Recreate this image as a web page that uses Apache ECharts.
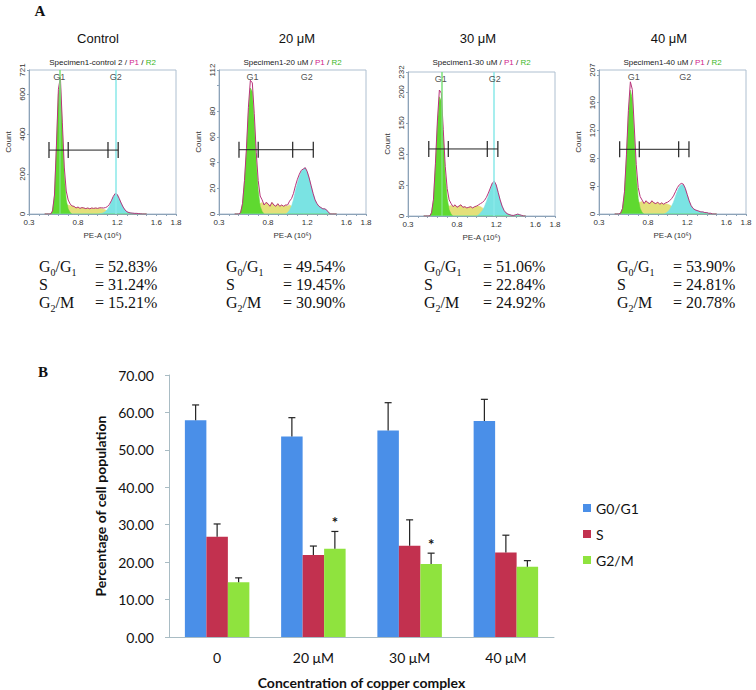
<!DOCTYPE html>
<html><head><meta charset="utf-8">
<script src="https://cdn.jsdelivr.net/npm/echarts@6/dist/echarts.min.js"></script>
<style>html,body{margin:0;padding:0;background:#fff}#c{width:756px;height:690px}</style>
</head><body><div id="c"></div>
<script>
// ================= Panel B data =================
const categories = ['0', '20 μM', '30 μM', '40 μM'];
const seriesNames = ['G0/G1', 'S', 'G2/M'];
const g0g1Mean = [57.9, 53.6, 55.2, 57.7];
const g0g1Err  = [4.1, 5.0, 7.4, 5.8];
const sMean    = [26.8, 21.9, 24.4, 22.6];
const sErr     = [3.4, 2.4, 6.9, 4.6];
const g2mMean  = [14.6, 23.6, 19.5, 18.8];
const g2mErr   = [1.2, 4.6, 2.9, 1.6];
const g2mSig   = ['', '*', '*', ''];
const yTitleB = 'Percentage of cell population';
const xTitleB = 'Concentration of copper complex';

// ================= Panel A data =================
const panelTitles = ['Control', '20 μM', '30 μM', '40 μM'];
const specimenNames = ['Specimen1-control 2', 'Specimen1-20 uM', 'Specimen1-30 uM', 'Specimen1-40 uM'];
const countMax = [721, 112, 232, 207];
const countStep = [200, 20, 50, 40];
const countLabels = [[0, 200, 400, 600, 721], [0, 20, 40, 60, 80, 112], [0, 50, 100, 150, 200, 232], [0, 40, 80, 120, 160, 207]];
const peLabels = [0.3, 0.8, 1.2, 1.6, 1.8];
const binCentres = [0.46,0.48,0.50,0.52,0.54,0.56,0.58,0.60,0.62,0.64,
  0.66,0.68,0.70,0.72,0.74,0.76,0.78,0.80,0.82,0.84,
  0.86,0.88,0.90,0.92,0.94,0.96,0.98,1.00,1.02,1.04,
  1.06,1.08,1.10,1.12,1.14,1.16,1.18,1.20,1.22,1.24,
  1.26,1.28,1.30,1.32,1.34,1.36,1.38,1.40,1.42,1.44,
  1.46,1.48,1.50];
// control
const ctrlG1 = [0,0,0,0,15,90,330,600,650,420, 190,70,25,8,0,0,0,0,0,0, 0,0,0,0,0,0,0,0,0,0, 0,0,0,0,0,0,0,0,0,0, 0,0,0,0,0,0,0,0,0,0, 0,0,0];
const ctrlS  = [0,0,0,0,0,5,15,25,35,40, 45,45,45,42,40,38,30,35,28,32, 30,27,30,26,30,28,30,28,30,28, 24,20,15,10,6,3,1,0,0,0, 0,0,0,0,0,0,0,0,0,0, 0,0,0];
const ctrlG2 = [0,0,0,0,0,0,0,0,0,0, 0,0,0,0,0,0,0,0,0,0, 0,0,0,0,0,0,0,0,1,3, 6,12,22,38,60,85,102,98,78,55, 35,20,11,7,5,4,3,3,2,1, 0,0,0];
// 20 uM
const d20G1 = [0,0,0,1,8,25,48,78,98,95, 70,40,18,6,2,0,0,0,0,0, 0,0,0,0,0,0,0,0,0,0, 0,0,0,0,0,0,0,0,0,0, 0,0,0,0,0,0,0,0,0,0, 0,0,0];
const d20S  = [0,0,0,0,0,1,3,5,6,7, 8,8,8,8,9,7,9,8,6,9, 7,6,8,6,7,6,7,6,7,6, 5,4,3,2,1,0,0,0,0,0, 0,0,0,0,0,0,0,0,0,0, 0,0,0];
const d20G2 = [0,0,0,0,0,0,0,0,0,0, 0,0,0,0,0,0,0,0,0,0, 0,0,0,0,0,0,0,1,3,6, 11,18,24,29,33,35,36,33,28,22, 16,11,8,6,5,4,4,3,1,0, 0,0,0];
// 30 uM
const d30G1 = [0,0,0,0,5,25,80,145,192,185, 125,65,28,10,3,0,0,0,0,0, 0,0,0,0,0,0,0,0,0,0, 0,0,0,0,0,0,0,0,0,0, 0,0,0,0,0,0,0,0,0,0, 0,0,0];
const d30S  = [0,0,0,0,0,2,5,8,11,13, 14,15,16,16,17,15,18,14,16,18, 14,15,13,14,15,13,15,16,16,15, 13,10,7,5,3,1,0,0,0,0, 0,0,0,0,0,0,0,0,0,0, 0,0,0];
const d30G2 = [0,0,0,0,0,0,0,0,0,0, 0,0,0,0,0,0,0,0,0,0, 0,0,0,0,0,0,0,0,2,5, 9,15,23,32,42,52,56,50,38,26, 16,9,5,3,2,1,1,2,3,2, 1,0,0];
// 40 uM
const d40G1 = [0,0,0,1,8,30,80,140,178,165, 110,55,22,8,2,0,0,0,0,0, 0,0,0,0,0,0,0,0,0,0, 0,0,0,0,0,0,0,0,0,0, 0,0,0,0,0,0,0,0,0,0, 0,0,0];
const d40S  = [0,0,0,0,0,2,5,9,12,14, 15,16,16,17,18,15,19,16,15,19, 16,15,17,14,16,14,15,14,13,11, 9,7,5,3,2,1,0,0,0,0, 0,0,0,0,0,0,0,0,0,0, 0,0,0];
const d40G2 = [0,0,0,0,0,0,0,0,0,0, 0,0,0,0,0,0,0,0,0,0, 0,0,0,0,0,0,1,3,6,11, 17,25,33,39,42,42,37,28,19,12, 8,6,5,4,3,3,2,2,1,1, 0,0,0];
const histG1 = [ctrlG1, d20G1, d30G1, d40G1];
const histS  = [ctrlS, d20S, d30S, d40S];
const histG2 = [ctrlG2, d20G2, d30G2, d40G2];
const gateX = [[0.504, 0.70, 1.106, 1.21], [0.504, 0.70, 1.052, 1.262], [0.512, 0.711, 1.109, 1.217], [0.511, 0.711, 1.113, 1.218]];
const gateCount = [320, 50, 108, 93];
const markerG1 = [0.609, 0.643, 0.635, 0.654];
const markerG2 = [1.185, 1.195, 1.184, 1.18];
const markerLines = [true, false, true, false];
const phasePct = [['52.83%', '31.24%', '15.21%'], ['49.54%', '19.45%', '30.90%'], ['51.06%', '22.84%', '24.92%'], ['53.90%', '24.81%', '20.78%']];

// ================= layout =================
const histLeft = [29, 219, 408, 599];
const histTop = [70, 70, 72, 70];
const histW = 147, histH = 144;
const titleX = [98, 297, 478, 669];
const statLabelX = [39, 226, 424, 617];
const statValueX = [95, 283, 483, 673];
const statY = [266, 284, 302];
const colG1 = '#5fd930', colS = '#e4e07a', colG2 = '#7ae3e3', colOutline = '#b8347a';
const barColors = ['#4a8fe8', '#c2314f', '#8fe33e'];
const axisGrey = '#a9bcc4';
const hFont = 'Liberation Sans';

const chart = echarts.init(document.getElementById('c'), null, {renderer: 'svg'});

const grids = [], xAxes = [], yAxes = [], series = [], graphics = [];
const near = (arr, v) => arr.some(a => Math.abs(a - v) < 1e-6);

for (let i = 0; i < 4; i++) {
  grids.push({left: histLeft[i], top: histTop[i], width: histW, height: histH, show: true, borderColor: '#aebfd0', borderWidth: 1, containLabel: false});
  xAxes.push({
    gridIndex: i, type: 'value', min: 0.3, max: 1.8, interval: 0.1,
    name: 'PE-A (10⁶)', nameLocation: 'middle', nameGap: 17,
    nameTextStyle: {fontFamily: hFont, fontSize: 8, color: '#333'},
    axisLine: {lineStyle: {color: '#8da3b8'}},
    axisTick: {length: 2, lineStyle: {color: '#8da3b8'}},
    splitLine: {show: false},
    axisLabel: {fontFamily: hFont, fontSize: 8, color: '#333', margin: 4, showMinLabel: true, showMaxLabel: true,
      formatter: v => near(peLabels, v) ? (Math.round(v * 10) / 10).toFixed(1) : ''}
  });
  yAxes.push({
    gridIndex: i, type: 'value', min: 0, max: countMax[i], interval: countStep[i],
    name: 'Count', nameLocation: 'middle', nameGap: 17, nameRotate: 90,
    nameTextStyle: {fontFamily: hFont, fontSize: 8, color: '#333'},
    axisLine: {show: true, lineStyle: {color: '#8da3b8'}},
    axisTick: {show: true, length: 2, lineStyle: {color: '#8da3b8'}},
    splitLine: {show: false},
    axisLabel: {rotate: 90, fontFamily: hFont, fontSize: 8, color: '#333', margin: 3, showMaxLabel: true,
      formatter: v => near(countLabels[i], v) ? String(Math.round(v)) : ''}
  });
  const toPts = arr => binCentres.map((x, k) => [x, arr[k]]);
  const total = binCentres.map((x, k) => [x, histG1[i][k] + histS[i][k] + histG2[i][k]]);
  const areaSeries = (name, arr, col, z) => ({
    name: name, type: 'line', xAxisIndex: i, yAxisIndex: i, data: toPts(arr), symbol: 'none', silent: true,
    lineStyle: {width: 0.6, color: col}, areaStyle: {color: col, opacity: 1}, z: z, animation: false
  });
  series.push(areaSeries('hS' + i, histS[i], colS, 2));
  series.push(areaSeries('hG1' + i, histG1[i], colG1, 3));
  series.push(areaSeries('hG2' + i, histG2[i], colG2, 3));
  series.push({name: 'hT' + i, type: 'line', xAxisIndex: i, yAxisIndex: i, data: total, symbol: 'none', silent: true,
    lineStyle: {width: 1, color: colOutline}, z: 4, animation: false});
  // gate bar
  series.push({
    name: 'gate' + i, type: 'custom', xAxisIndex: i, yAxisIndex: i, silent: true, z: 6, animation: false,
    data: [[gateX[i][0], gateCount[i]]],
    renderItem: (params, api) => {
      const xs = gateX[i], yv = gateCount[i];
      const p0 = api.coord([xs[0], yv]), p3 = api.coord([xs[3], yv]);
      const ch = [{type: 'line', shape: {x1: p0[0], y1: p0[1], x2: p3[0], y2: p3[1]}, style: {stroke: '#222', lineWidth: 1}}];
      xs.forEach(x => {
        const p = api.coord([x, yv]);
        ch.push({type: 'line', shape: {x1: p[0], y1: p[1] - 8, x2: p[0], y2: p[1] + 8}, style: {stroke: '#222', lineWidth: 1.2}});
      });
      return {type: 'group', children: ch};
    }
  });
  // G1 / G2 markers
  const mk = {
    name: 'mk' + i, type: 'scatter', xAxisIndex: i, yAxisIndex: i, symbolSize: 0, silent: true, z: 7, animation: false,
    data: [{name: 'G1', value: [markerG1[i], countMax[i] * 0.95]}, {name: 'G2', value: [markerG2[i], countMax[i] * 0.95]}],
    label: {show: true, position: 'inside', formatter: '{b}', fontFamily: hFont, fontSize: 9, color: '#222'}
  };
  if (markerLines[i]) {
    mk.markLine = {symbol: 'none', silent: true, animation: false, label: {show: false},
      data: [{xAxis: markerG1[i], lineStyle: {color: '#7be07b', width: 1.5, type: 'solid'}},
             {xAxis: markerG2[i], lineStyle: {color: '#8ae8e8', width: 1.5, type: 'solid'}}]};
  }
  series.push(mk);

  const cx = histLeft[i] + histW / 2;
  graphics.push({type: 'text', x: titleX[i], y: 38, style: {text: panelTitles[i], font: '13px "Liberation Sans"', fill: '#111', textAlign: 'center', textVerticalAlign: 'middle'}});
  graphics.push({type: 'text', x: cx, y: 62, style: {
    text: '{a|' + specimenNames[i] + ' / }{p|P1}{a| / }{r|R2}', textAlign: 'center', textVerticalAlign: 'middle',
    rich: {a: {fontFamily: hFont, fontSize: 8, fill: '#222'}, p: {fontFamily: hFont, fontSize: 8, fill: '#d0238c'}, r: {fontFamily: hFont, fontSize: 8, fill: '#3cb81e'}}}});

  const labels = ['{m|G}{s|0}{m|/G}{s|1}', '{m|S}', '{m|G}{s|2}{m|/M}'];
  const rich = {m: {fontFamily: 'Liberation Serif', fontSize: 16, lineHeight: 22, verticalAlign: 'middle', fill: '#111'},
                s: {fontFamily: 'Liberation Serif', fontSize: 10, lineHeight: 22, verticalAlign: 'bottom', fill: '#111'}};
  for (let r = 0; r < 3; r++) {
    graphics.push({type: 'text', x: statLabelX[i], y: statY[r], style: {text: labels[r], rich: rich, textVerticalAlign: 'middle'}});
    graphics.push({type: 'text', x: statValueX[i], y: statY[r], style: {text: '= ' + phasePct[i][r], font: '16px "Liberation Serif"', fill: '#111', textVerticalAlign: 'middle'}});
  }
}

graphics.push({type: 'text', x: 40, y: 11, style: {text: 'A', font: 'bold 15px "Liberation Serif"', fill: '#111', textAlign: 'center', textVerticalAlign: 'middle'}});
graphics.push({type: 'text', x: 43, y: 372, style: {text: 'B', font: 'bold 15px "Liberation Serif"', fill: '#111', textAlign: 'center', textVerticalAlign: 'middle'}});

// ================= Panel B =================
const bI = 4;
grids.push({left: 169, top: 375, width: 385, height: 262});
xAxes.push({gridIndex: bI, type: 'category', data: categories,
  name: xTitleB, nameLocation: 'middle', nameGap: 38,
  nameTextStyle: {fontFamily: 'Lato', fontSize: 14, fontWeight: 'bold', color: '#111'},
  axisLine: {lineStyle: {color: axisGrey}}, axisTick: {length: 5, lineStyle: {color: axisGrey}},
  axisLabel: {fontFamily: 'Lato', fontSize: 14, color: '#111', margin: 13}});
yAxes.push({gridIndex: bI, type: 'value', min: 0, max: 70, interval: 10,
  name: yTitleB, nameLocation: 'middle', nameGap: 58, nameRotate: 90,
  nameTextStyle: {fontFamily: 'Lato', fontSize: 14, fontWeight: 'bold', color: '#111'},
  axisLine: {show: true, lineStyle: {color: axisGrey}}, axisTick: {show: true, length: 4, lineStyle: {color: axisGrey}},
  splitLine: {show: false},
  axisLabel: {fontFamily: 'Lato', fontSize: 14, color: '#111', margin: 15, formatter: v => v.toFixed(2)}});

const means = [g0g1Mean, sMean, g2mMean];
const errs = [g0g1Err, sErr, g2mErr];
const sigs = [null, null, g2mSig];
const catGap = 0.33;
for (let k = 0; k < 3; k++) {
  series.push({name: seriesNames[k], type: 'bar', xAxisIndex: bI, yAxisIndex: bI, data: means[k],
    itemStyle: {color: barColors[k]}, barGap: '0%', barCategoryGap: (catGap * 100) + '%', animation: false});
}
for (let k = 0; k < 3; k++) {
  series.push({name: 'err' + k, type: 'custom', xAxisIndex: bI, yAxisIndex: bI, silent: true, z: 5, animation: false,
    data: means[k].map((m, j) => [j, m, m + errs[k][j]]),
    renderItem: (params, api) => {
      const j = api.value(0);
      const band = api.size([1, 0])[0];
      const bw = band * (1 - catGap) / 3;
      const x = api.coord([j, 0])[0] + (k - 1) * bw;
      const yb = api.coord([j, api.value(1)])[1];
      const yt = api.coord([j, api.value(2)])[1];
      const ch = [
        {type: 'line', shape: {x1: x, y1: yb, x2: x, y2: yt}, style: {stroke: '#222', lineWidth: 1.2}},
        {type: 'line', shape: {x1: x - 3.5, y1: yt, x2: x + 3.5, y2: yt}, style: {stroke: '#222', lineWidth: 1.2}}
      ];
      if (sigs[k] && sigs[k][params.dataIndex]) {
        ch.push({type: 'text', x: x, y: yt - 9, style: {text: sigs[k][params.dataIndex], font: 'bold 15px "Lato"', fill: '#111', textAlign: 'center', textVerticalAlign: 'middle'}});
      }
      return {type: 'group', children: ch};
    }});
}

chart.setOption({
  animation: false,
  backgroundColor: '#fff',
  grid: grids, xAxis: xAxes, yAxis: yAxes, series: series, graphic: graphics,
  legend: {data: seriesNames, orient: 'vertical', left: 578, top: 496, itemWidth: 8, itemHeight: 8, itemGap: 12,
    icon: 'rect', selectedMode: false, textStyle: {fontFamily: 'Lato', fontSize: 14, color: '#111'}}
});
</script>
</body></html>
